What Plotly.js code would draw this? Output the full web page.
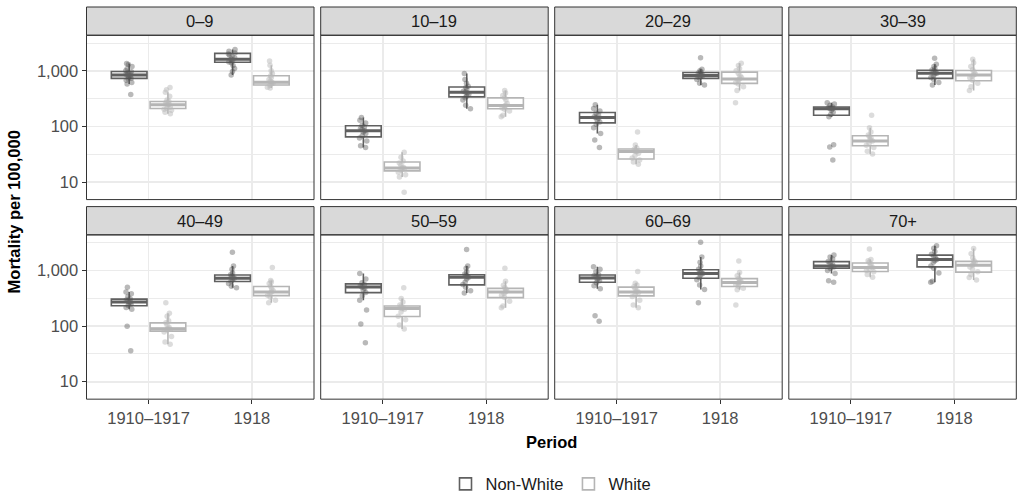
<!DOCTYPE html>
<html>
<head>
<meta charset="utf-8">
<script src="https://cdn.plot.ly/plotly-3.0.1.min.js"></script>
<style>html,body{margin:0;padding:0;background:#fff;}#chart{width:1020px;height:502px;}</style>
</head>
<body>
<div id="chart"></div>
<script>
// ---------- DATA ----------
const ageGroups = ['0–9','10–19','20–29','30–39','40–49','50–59','60–69','70+'];
const periods = ['1910–1917','1918'];
const groups = ['Non-White','White'];
const yTickVals = [10, 100, 1000];
const yTickText = ['10', '100', '1,000'];

const nwQ1  = [[733,1427],[65,341],[116,733],[159,733],[232,632],[399,551],[615,723],[1099,1162]];
const nwMed = [[839,1614],[84,413],[145,828],[209,910],[270,723],[502,753],[733,885],[1208,1581]];
const nwQ3  = [[975,2060],[103,513],[179,936],[224,1029],[305,828],[575,839],[828,1029],[1440,1889]];
const nwLo  = [[581,839],[42,209],[75,557],[150,557],[200,489],[292,394],[469,457],[885,615]];
const nwHi  = [[1352,2427],[145,900],[246,1072],[267,1315],[410,1208],[885,1208],[1162,1742],[1889,2790]];

const wQ1  = [[211,557],[15.9,209],[26,597],[45,664],[81,353],[149,325],[349,515],[960,933]];
const wMed = [[246,622],[17.9,239],[35.5,713],[55,839],[90,410],[208,410],[410,607],[1129,1239]];
const wQ3  = [[281,815],[23,327],[39.5,949],[68,1015],[114,515],[230,476],[502,713],[1365,1459]];
const wLo  = [[170,493],[12.4,149],[21,442],[32,442],[47,262],[89,214],[214,451],[753,674]];
const wHi  = [[413,1262],[34.5,442],[46.6,1370],[95,1614],[170,658],[313,640],[590,922],[1581,2471]];

// Individual observations (mortality per 100,000)
const nwPts1910 = [
  [375,581,620,680,720,740,780,810,839,860,890,920,960,1000,1100,1200,1300,1352],
  [42,45,55,62,68,75,80,84,88,92,98,105,115,130,145],
  [42,57,75,95,110,120,130,140,145,150,160,175,190,210,246],
  [25,43,47,150,165,180,195,209,212,218,225,240,255,267],
  [36,99,200,215,235,250,265,270,280,295,310,340,380,410,500],
  [50,109,195,292,350,400,450,480,502,530,560,600,700,885],
  [122,153,469,530,600,650,700,733,760,800,850,950,1050,1162],
  [615,650,885,1000,1100,1150,1208,1250,1350,1450,1600,1750,1889]
];
const nwPts1918 = [
  [839,970,1100,1250,1400,1450,1550,1614,1700,1800,1900,2000,2100,2250,2427],
  [209,240,300,330,350,380,400,413,430,460,500,530,600,700,900],
  [557,600,700,750,790,828,850,880,920,960,1000,1072,1730],
  [557,620,700,760,820,880,910,950,990,1040,1100,1200,1315,1681],
  [489,520,580,640,680,723,750,790,840,900,1050,1208,2128],
  [394,430,500,560,620,700,753,780,820,860,950,1100,1208,2373],
  [262,457,550,680,750,820,885,930,980,1050,1200,1400,1742,3200],
  [615,640,900,1100,1200,1400,1500,1581,1700,1800,1950,2200,2500,2790]
];
const wPts1910 = [
  [170,180,195,205,215,225,240,250,260,270,285,300,350,413,460,500],
  [6.6,12.4,13.5,15,16.5,17.5,17.9,18.5,20,22,24,28,34.5],
  [21,23,25,27,30,33,35.5,36,37,39,41,46.6,80],
  [32,36,42,46,50,55,58,62,66,70,80,95,159],
  [47,52,65,78,85,88,90,95,105,115,125,150,170,262],
  [89,105,130,150,180,200,208,215,225,240,270,313,489],
  [214,240,290,340,370,400,410,430,470,510,550,590,960],
  [753,850,950,1000,1080,1129,1200,1300,1400,1500,1581,2440]
];
const wPts1918 = [
  [493,510,550,580,600,622,650,700,760,820,900,1000,1262,1507],
  [149,160,190,205,215,230,239,260,300,330,360,400,442],
  [267,442,520,580,620,680,713,760,820,900,1000,1100,1250,1370],
  [442,520,600,680,750,800,839,880,950,1050,1200,1400,1614],
  [262,290,330,360,390,410,430,470,520,580,620,658,1129],
  [214,230,280,330,360,390,410,430,460,490,540,640,1099],
  [239,451,480,520,560,590,607,630,680,720,800,922,1483],
  [674,750,850,950,1050,1150,1239,1300,1400,1500,1700,2000,2471]
];

// ---------- LAYOUT GEOMETRY (pixels) ----------
const W = 1020, H = 502;
const colLeft = [86.5, 320.7, 554.7, 788.8];
const panelW = 227.5;
const rowTop = [35.7, 237.7];
const panelH = 166.3;
const stripH = 28.6;
const FONT = '"Liberation Sans", Arial, Helvetica, sans-serif';
const FS = 16.5;

const styles = {
  'Non-White': {line: '#606060', pt: 'rgba(80,80,80,0.4)'},
  'White': {line: '#b5b5b5', pt: 'rgba(185,185,185,0.5)'}
};

const traces = [];
const medTraces = [];
const layout = {
  width: W, height: H,
  margin: {l: 0, r: 0, t: 0, b: 0},
  paper_bgcolor: '#ffffff', plot_bgcolor: '#ffffff',
  font: {family: FONT, size: FS, color: '#4d4d4d'},
  boxmode: 'group', boxgap: 0.25, boxgroupgap: 0.08,
  showlegend: true,
  legend: {orientation: 'h', x: 551/W, xanchor: 'center', y: 1 - 490/H, yanchor: 'middle',
           font: {family: FONT, size: FS, color: '#1a1a1a'}, bgcolor: 'rgba(0,0,0,0)',
           itemwidth: 30, tracegroupgap: 0},
  shapes: [], annotations: []
};

const minorVals = [3.1623, 31.623, 316.23, 3162.3];

ageGroups.forEach((age, i) => {
  const r = Math.floor(i / 4), c = i % 4;
  const n = i + 1;
  const xa = 'x' + (n === 1 ? '' : n), ya = 'y' + (n === 1 ? '' : n);
  const xKey = 'xaxis' + (n === 1 ? '' : n), yKey = 'yaxis' + (n === 1 ? '' : n);
  const left = colLeft[c], top = rowTop[r];
  const xd = [left / W, (left + panelW) / W];
  const yd = [1 - (top + panelH) / H, 1 - top / H];

  layout[xKey] = {
    domain: xd, anchor: ya, type: 'category', categoryorder: 'array', categoryarray: periods,
    range: [-0.6, 1.6], showgrid: true, gridcolor: '#ebebeb', gridwidth: 1.6,
    showline: false, zeroline: false, fixedrange: true,
    ticks: r === 1 ? 'outside' : '', ticklen: 4, tickwidth: 1, tickcolor: '#333333',
    showticklabels: r === 1, tickfont: {family: FONT, size: FS, color: '#4d4d4d'}
  };
  layout[yKey] = {
    domain: yd, anchor: xa, type: 'log', range: [0.686, 3.64],
    tickmode: 'array', tickvals: yTickVals, ticktext: yTickText,
    showgrid: true, gridcolor: '#ebebeb', gridwidth: 1.6,
    minor: {tickmode: 'array', tickvals: minorVals, showgrid: true, gridcolor: '#ebebeb', gridwidth: 1, ticks: ''},
    showline: false, zeroline: false, fixedrange: true,
    ticks: c === 0 ? 'outside' : '', ticklen: 4, tickwidth: 1, tickcolor: '#333333',
    showticklabels: c === 0, tickfont: {family: FONT, size: FS, color: '#4d4d4d'}
  };

  const sets = [
    {name: 'Non-White', q1: nwQ1[i], med: nwMed[i], q3: nwQ3[i], lo: nwLo[i], hi: nwHi[i], pts: [nwPts1910[i], nwPts1918[i]]},
    {name: 'White', q1: wQ1[i], med: wMed[i], q3: wQ3[i], lo: wLo[i], hi: wHi[i], pts: [wPts1910[i], wPts1918[i]]}
  ];
  sets.forEach(s => {
    traces.push({
      type: 'box', name: s.name, legendgroup: s.name, showlegend: i === 0,
      xaxis: xa, yaxis: ya,
      alignmentgroup: 'panel' + i, offsetgroup: s.name,
      x: periods, q1: s.q1, median: s.med, q3: s.q3, lowerfence: s.lo, upperfence: s.hi,
      y: s.pts,
      boxpoints: 'all', jitter: 0.26, pointpos: 0,
      marker: {color: styles[s.name].pt, size: 5.5, line: {width: 0}},
      line: {color: styles[s.name].line, width: 1.6},
      fillcolor: 'rgba(255,255,255,1)',
      whiskerwidth: 0,
      hoverinfo: 'skip'
    });
    // thick median bar drawn on top (ggplot-style heavier median)
    medTraces.push({
      type: 'box', name: s.name, legendgroup: s.name, showlegend: false,
      xaxis: xa, yaxis: ya,
      alignmentgroup: 'panel' + i, offsetgroup: s.name,
      x: periods, q1: s.med, median: s.med, q3: s.med, lowerfence: s.med, upperfence: s.med,
      boxpoints: false,
      line: {color: styles[s.name].line, width: 3},
      fillcolor: 'rgba(0,0,0,0)',
      whiskerwidth: 0,
      hoverinfo: 'skip'
    });
  });

  // strip
  layout.shapes.push({type: 'rect', xref: 'paper', yref: 'paper',
    x0: xd[0], x1: xd[1], y0: 1 - top / H, y1: 1 - (top - stripH) / H,
    fillcolor: '#d9d9d9', line: {color: '#333333', width: 1}, layer: 'above'});
  // panel border
  layout.shapes.push({type: 'rect', xref: 'paper', yref: 'paper',
    x0: xd[0], x1: xd[1], y0: yd[0], y1: yd[1],
    fillcolor: 'rgba(0,0,0,0)', line: {color: '#333333', width: 1}, layer: 'above'});
  layout.annotations.push({xref: 'paper', yref: 'paper', x: (xd[0] + xd[1]) / 2,
    y: 1 - (top - stripH / 2) / H, text: age, showarrow: false, xanchor: 'center', yanchor: 'middle',
    font: {family: FONT, size: FS, color: '#1a1a1a'}});
});

// axis titles
layout.annotations.push({xref: 'paper', yref: 'paper', x: 551 / W, y: 1 - 447 / H,
  text: '<b>Period</b>', showarrow: false, xanchor: 'center', yanchor: 'middle',
  font: {family: FONT, size: FS, color: '#000000'}});
layout.annotations.push({xref: 'paper', yref: 'paper', x: 14 / W, y: 1 - 215 / H,
  text: '<b>Mortality per 100,000</b>', showarrow: false, textangle: -90, xanchor: 'center', yanchor: 'middle',
  font: {family: FONT, size: FS, color: '#000000'}});

Plotly.newPlot('chart', traces.concat(medTraces), layout, {staticPlot: true, displayModeBar: false});
</script>
</body>
</html>
